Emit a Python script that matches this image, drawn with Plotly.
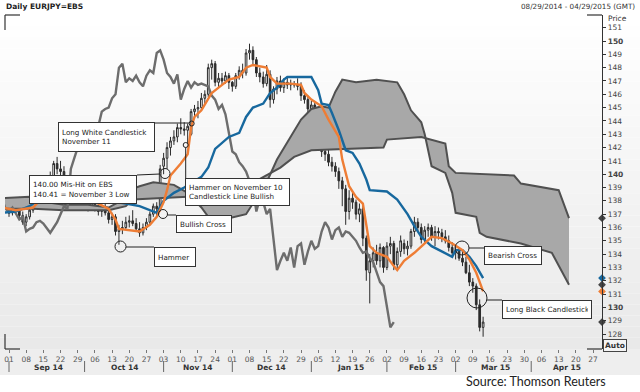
import plotly.graph_objects as go
import pandas as pd

# ---------------- data ----------------
candle_dates = pd.bdate_range("2014-09-01", "2015-03-12")

ohlc_sep = [(137.1,137.4,136.8,137.1),(137.1,137.9,136.9,137.7),(137.7,138.2,137.4,137.9),(137.9,138.3,136.7,136.9),
            (136.9,137.2,136.2,136.4),(136.4,137.0,136.1,136.8),(136.8,137.6,136.6,137.3),(137.3,138.4,137.1,138.3),
            (138.3,139.2,138.0,139.0),(139.0,139.8,138.7,139.4),(139.4,139.6,138.8,139.0),(139.0,139.5,138.6,139.3),
            (139.3,140.2,139.0,139.9),(139.9,141.0,139.6,140.8),(140.8,141.3,140.0,140.4),(140.4,141.0,139.6,140.2),
            (140.2,140.6,139.2,139.6),(139.6,139.9,138.7,139.0),(139.0,139.3,138.1,138.4),(138.4,138.9,137.9,138.6),
            (138.6,138.9,137.8,138.0),(138.0,138.8,137.7,138.5)]
ohlc_oct = [(138.5,138.7,137.6,137.9),(137.9,138.3,137.2,137.6),(137.6,138.4,137.3,138.1),(138.1,138.3,137.2,137.4),
            (137.4,137.8,136.9,137.2),(137.2,137.6,136.8,137.5),(137.5,137.9,136.9,137.1),(137.1,137.4,136.3,136.6),
            (136.6,137.1,136.2,136.8),(136.8,137.0,135.4,135.7),(135.7,136.2,134.7,135.9),(135.9,136.5,135.5,136.0),
            (136.0,136.8,135.8,136.4),(136.4,136.9,136.0,136.5),(136.5,137.3,136.1,136.3),(136.3,136.7,135.7,135.9),
            (135.9,136.4,135.3,135.6),(135.6,136.3,135.4,136.0),(136.0,136.7,135.8,136.4),(136.4,137.2,136.2,137.0),
            (137.0,137.8,136.8,137.6),(137.6,137.9,136.9,137.4),(137.4,140.7,137.2,140.4)]
ohlc_nov = [(140.6,141.6,140.0,141.2),(141.2,142.4,140.4,142.0),(142.0,142.8,141.4,142.5),(142.5,143.3,142.2,142.8),
            (142.8,143.8,142.4,143.5),(143.5,144.2,143.0,143.4),(143.4,143.9,142.9,143.3),(143.3,143.8,142.3,143.6),
            (143.0,144.9,142.9,144.7),(144.7,145.2,144.3,144.9),(144.9,145.5,144.2,145.0),(145.0,146.1,144.8,145.7),
            (145.7,146.3,145.2,146.0),(146.0,148.3,145.8,148.0),(148.0,148.6,147.1,148.3),(148.3,148.5,146.6,146.9),
            (146.9,147.6,146.5,147.2),(147.2,147.6,146.7,147.0),(147.0,147.7,146.8,147.4),(147.4,147.6,146.4,146.9)]
ohlc_dec = [(146.9,147.0,146.2,146.6),(146.6,147.6,146.4,147.4),(147.4,148.1,147.1,147.8),(147.8,148.3,147.2,147.6),
            (147.6,149.4,147.4,149.1),(149.1,149.8,148.6,149.3),(149.3,149.6,148.2,148.6),(148.6,148.8,147.3,147.6),
            (147.6,148.0,146.9,147.3),(147.3,147.7,146.5,146.8),(146.8,148.2,146.6,147.5),(147.5,147.8,145.0,145.6),
            (145.6,146.6,145.3,146.4),(146.4,147.3,146.0,147.0),(147.0,147.4,146.2,146.5),(146.5,147.2,146.1,146.9),
            (146.9,147.3,146.4,146.7),(146.7,147.1,146.3,146.8),(146.8,147.0,146.5,146.7),(146.7,147.2,146.3,146.6),
            (146.6,146.9,145.5,145.9),(145.9,146.3,145.3,145.6),(145.6,145.9,144.6,144.9)]
ohlc_jan = [(144.9,145.5,144.6,145.2),(145.2,145.4,144.2,144.5),(144.3,144.4,142.4,143.0),(143.0,143.2,141.3,141.7),
            (141.7,142.3,141.0,141.5),(141.5,142.0,140.6,140.9),(140.9,141.3,140.2,140.6),(140.6,140.9,139.8,140.2),
            (140.2,140.5,138.9,139.5),(139.5,139.8,137.6,138.9),(138.9,139.2,136.2,137.2),(137.2,138.8,136.6,138.2),
            (138.2,138.6,137.4,137.9),(137.9,138.1,136.6,137.0),(137.0,137.8,136.4,137.4),(137.4,137.7,134.6,135.2),
            (135.2,135.4,132.0,132.8),(132.6,134.0,130.3,133.5),(133.5,134.5,133.0,134.1),(134.1,134.7,133.2,133.5),
            (133.5,134.8,133.0,134.5),(134.5,134.6,132.6,133.0)]
ohlc_feb = [(133.0,134.9,132.8,134.6),(134.6,135.3,134.0,134.8),(134.8,135.0,132.8,133.2),(133.2,134.5,132.9,134.2),
            (134.2,135.4,133.8,135.0),(134.8,135.1,134.0,134.4),(134.4,135.0,133.9,134.6),(134.6,135.9,134.4,135.7),
            (135.7,136.8,135.3,136.4),(136.4,136.7,135.7,136.0),(136.0,136.3,134.8,135.1),(135.1,136.1,134.9,135.8),
            (135.8,136.3,135.3,136.0),(136.0,136.2,135.0,135.3),(135.3,136.1,134.6,135.7),(135.7,136.0,135.1,135.6),
            (135.6,135.9,134.9,135.3),(135.3,135.8,134.8,135.0),(135.0,135.4,134.2,134.5),(134.5,134.9,133.8,134.1)]
ohlc_mar = [(134.1,134.6,133.6,134.2),(134.2,134.5,133.5,133.7),(133.7,134.3,133.1,133.4),(133.4,133.8,132.5,132.6),
            (132.6,133.2,131.6,131.9),(131.9,132.2,131.1,131.6),(131.6,131.8,129.8,130.2),(130.2,130.6,128.2,128.5),
            (128.5,129.3,127.8,128.9)]
ohlc = ohlc_sep + ohlc_oct + ohlc_nov + ohlc_dec + ohlc_jan + ohlc_feb + ohlc_mar
price_open = [r[0] for r in ohlc]
price_high = [r[1] for r in ohlc]
price_low = [r[2] for r in ohlc]
price_close = [r[3] for r in ohlc]

# lagging span: the closes, drawn 26 sessions back
chikou_dates = pd.bdate_range("2014-07-25", periods=len(price_close))

tenkan_dates = ["2014-08-28","2014-09-03","2014-09-10","2014-09-16","2014-09-22","2014-09-26","2014-10-02","2014-10-08",
                "2014-10-10","2014-10-14","2014-10-15","2014-10-23","2014-10-28","2014-10-30","2014-11-03","2014-11-04",
                "2014-11-05","2014-11-10","2014-11-12","2014-11-13","2014-11-14","2014-11-18","2014-11-20","2014-11-21",
                "2014-11-25","2014-11-28","2014-12-03","2014-12-05","2014-12-09","2014-12-15","2014-12-16","2014-12-18",
                "2014-12-24","2014-12-29","2014-12-30","2015-01-01","2015-01-06","2015-01-08","2015-01-13","2015-01-14",
                "2015-01-16","2015-01-20","2015-01-22","2015-01-23","2015-01-26","2015-01-28","2015-02-02","2015-02-04",
                "2015-02-05","2015-02-09","2015-02-12","2015-02-17","2015-02-19","2015-02-24","2015-02-27","2015-03-04",
                "2015-03-06","2015-03-10","2015-03-12"]
tenkan_vals = [137.5,137.3,137.5,138.6,139.6,139.2,138.2,137.7,
               137.4,136.6,135.9,135.7,136.2,136.8,137.9,138.8,
               139.9,140.8,141.5,143.5,144.3,144.8,145.6,146.1,
               146.5,147.1,147.3,148.0,148.2,148.0,147.3,146.8,
               146.8,146.7,146.1,145.6,145.1,144.1,142.8,141.1,
               139.1,138.3,137.8,136.1,134.6,134.1,133.8,133.1,
               132.8,133.5,134.1,134.8,135.3,135.2,134.8,134.3,
               133.6,132.6,131.2]

kijun_dates = ["2014-08-28","2014-09-03","2014-09-09","2014-09-17","2014-09-30","2014-10-10","2014-10-17","2014-10-23",
               "2014-10-30","2014-11-03","2014-11-06","2014-11-11","2014-11-18","2014-11-20","2014-11-24","2014-11-28",
               "2014-12-03","2014-12-05","2014-12-09","2014-12-12","2014-12-16","2014-12-18","2014-12-22","2014-12-23",
               "2015-01-01","2015-01-05","2015-01-06","2015-01-08","2015-01-09","2015-01-13","2015-01-15","2015-01-19",
               "2015-01-21","2015-01-23","2015-01-26","2015-02-02","2015-02-05","2015-02-10","2015-02-12","2015-02-16",
               "2015-02-19","2015-02-24","2015-02-27","2015-03-02","2015-03-04","2015-03-06","2015-03-10","2015-03-12"]
kijun_vals = [137.1,137.2,137.6,138.7,138.7,138.0,137.8,137.6,
              137.1,138.0,138.6,139.0,139.8,140.5,141.9,142.8,
              143.1,144.3,145.0,145.3,146.1,146.5,147.1,147.3,
              147.3,146.3,145.3,145.2,144.6,143.3,141.8,141.6,
              140.8,139.6,138.8,138.7,138.1,137.0,136.1,135.3,
              134.6,134.2,133.8,134.3,134.3,133.8,133.1,132.2]

span_a_dates = ["2014-08-28","2014-09-09","2014-09-16","2014-09-23","2014-10-02","2014-10-10","2014-10-17","2014-10-21",
                "2014-10-23","2014-10-29","2014-11-06","2014-11-12","2014-11-18","2014-11-20","2014-11-28","2014-12-05",
                "2014-12-10","2014-12-15","2014-12-18","2014-12-24","2014-12-29","2015-01-01","2015-01-06","2015-01-08",
                "2015-01-12","2015-01-14","2015-01-20","2015-01-28","2015-02-05","2015-02-09","2015-02-11","2015-02-16",
                "2015-02-17","2015-02-19","2015-02-25","2015-02-27","2015-03-02","2015-03-10","2015-03-11","2015-03-13",
                "2015-03-27","2015-04-09","2015-04-13","2015-04-16"]
span_a_vals = [138.2,138.3,137.9,137.7,137.7,137.5,138.2,138.9,
               139.1,139.4,139.2,138.6,137.5,136.8,136.7,137.0,
               138.2,139.4,141.1,142.8,144.1,144.9,145.1,145.0,
               146.2,147.1,146.9,147.1,146.9,146.0,144.8,143.9,
               143.0,140.6,140.1,138.6,137.1,136.8,135.6,135.3,
               134.8,134.1,133.1,131.7]

span_b_dates = ["2014-08-28","2014-09-10","2014-09-23","2014-10-10","2014-10-17","2014-10-21","2014-11-12","2014-12-03",
                "2014-12-10","2014-12-12","2014-12-19","2014-12-25","2015-01-01","2015-01-30","2015-02-02","2015-02-16",
                "2015-02-19","2015-02-25","2015-02-26","2015-03-02","2015-03-25","2015-03-27","2015-04-13","2015-04-15",
                "2015-04-16"]
span_b_vals = [137.4,137.4,137.3,137.3,137.6,138.1,138.3,138.5,
               139.5,139.8,140.5,141.3,141.8,142.0,142.6,142.8,
               142.6,142.3,140.6,140.1,139.9,139.3,138.8,137.5,
               136.7]

week_ticks = pd.date_range("2014-09-01", "2015-04-27", freq="W-MON")
week_labels = [d.strftime("%d") for d in week_ticks]
month_names = ["Sep 14", "Oct 14", "Nov 14", "Dec 14", "Jan 15", "Feb 15", "Mar 15", "Apr 15"]
month_starts = ["2014-09-01", "2014-10-01", "2014-11-03", "2014-12-01", "2015-01-01", "2015-02-02", "2015-03-02", "2015-04-01"]
month_mids = ["2014-09-16 12:00", "2014-10-16 12:00", "2014-11-17", "2014-12-16 12:00", "2015-01-16 12:00",
              "2015-02-16 12:00", "2015-03-17 12:00", "2015-04-15 12:00"]
price_ticks = list(range(128, 152))

# ---------------- layout helpers ----------------
W_PX, H_PX = 640, 392
L, R, T, B = 5, 602, 15, 349
PW, PH = R - L, B - T
X_RANGE = ["2014-08-28 20:00", "2015-04-29 14:30"]
Y_RANGE = [126.878, 151.953]


def X(px):
    return (px - L) / PW


def Y(py):
    return (B - py) / PH


ORANGE = "#ee7d35"
BLUE = "#17689e"
CLOUD_LINE = "#505050"
CLOUD_FILL = "#a8a8a8"
CHIKOU = "#6d6d6d"
TXT = "DejaVu Sans"

fig = go.Figure()

fig.add_trace(go.Scatter(x=span_b_dates, y=span_b_vals, mode="lines",
                         line=dict(color=CLOUD_LINE, width=2), showlegend=False, hoverinfo="skip"))
fig.add_trace(go.Scatter(x=span_a_dates, y=span_a_vals, mode="lines", fill="tonexty", fillcolor=CLOUD_FILL,
                         line=dict(color=CLOUD_LINE, width=2), showlegend=False, hoverinfo="skip"))
fig.add_trace(go.Scatter(x=chikou_dates, y=price_close, mode="lines",
                         line=dict(color=CHIKOU, width=2.4), showlegend=False, hoverinfo="skip"))
fig.add_trace(go.Candlestick(x=candle_dates, open=price_open, high=price_high, low=price_low, close=price_close,
                             increasing=dict(line=dict(color="#2b2b2b", width=1), fillcolor="#ffffff"),
                             decreasing=dict(line=dict(color="#2b2b2b", width=1), fillcolor="#2b2b2b"),
                             whiskerwidth=0, showlegend=False, hoverinfo="skip"))
fig.add_trace(go.Scatter(x=kijun_dates, y=kijun_vals, mode="lines",
                         line=dict(color=BLUE, width=2.4), showlegend=False, hoverinfo="skip"))
fig.add_trace(go.Scatter(x=tenkan_dates, y=tenkan_vals, mode="lines",
                         line=dict(color=ORANGE, width=2.4), showlegend=False, hoverinfo="skip"))

# last-value markers on the price axis
last_vals = [span_b_vals[-1], kijun_vals[-1], span_a_vals[-1], tenkan_vals[-1], price_close[-1]]
last_cols = ["#444444", BLUE, "#444444", ORANGE, "#444444"]
fig.add_trace(go.Scatter(x=[X_RANGE[1]] * len(last_vals), y=last_vals, mode="markers", cliponaxis=False,
                         marker=dict(symbol="diamond", size=6, color=last_cols), showlegend=False, hoverinfo="skip"))

shapes = []
# background gradient
N = 30
for i in range(N):
    frac = i / (N - 1)
    g = int(round(255 - frac * 22))
    shapes.append(dict(type="rect", xref="paper", yref="paper", layer="below", line=dict(width=0),
                       x0=X(0), x1=X(640), y0=Y(T + PH * (i + 1) / N), y1=Y(T + PH * i / N),
                       fillcolor=f"rgb({g},{g},{g})"))
# x-axis band
shapes.append(dict(type="rect", xref="paper", yref="paper", layer="below", line=dict(width=0),
                   x0=X(0), x1=X(640), y0=Y(375), y1=Y(349), fillcolor="#eeeeee"))
# frame corners
for (xa, ya, xb, yb) in [(5, 15, 20, 15), (5, 15, 5, 30), (5, 349, 20, 349), (5, 334, 5, 349),
                         (587, 15, 602, 15), (587, 349, 602, 349)]:
    shapes.append(dict(type="line", xref="paper", yref="paper", x0=X(xa), y0=Y(ya), x1=X(xb), y1=Y(yb),
                       line=dict(color="#333333", width=1.2)))
# month separators
for d in month_starts:
    shapes.append(dict(type="line", xref="x", yref="paper", x0=d, x1=d, y0=Y(361), y1=Y(372),
                       line=dict(color="#666666", width=1)))

# annotation circles (pixel centre, radius) and connector lines
circles = [(120.5, 246.5, 5.5), (165, 173.5, 5), (185.7, 145, 2.5), (191.7, 123.5, 2.5),
           (163, 214, 4.5), (462, 248, 7), (477, 298, 10)]
for cx, cy, r in circles:
    shapes.append(dict(type="circle", xref="paper", yref="paper", x0=X(cx - r), x1=X(cx + r),
                       y0=Y(cy + r), y1=Y(cy - r), line=dict(color="#222222", width=1)))
connectors = [(126, 247, 154, 247), (137, 175, 160, 174), (185.7, 147.5, 185.7, 178), (155, 123, 189.2, 123),
              (167.5, 215, 176, 215), (469, 248, 484, 248), (487, 300, 502, 300)]
for xa, ya, xb, yb in connectors:
    shapes.append(dict(type="line", xref="paper", yref="paper", x0=X(xa), y0=Y(ya), x1=X(xb), y1=Y(yb),
                       line=dict(color="#222222", width=1)))

annotations = []
# boxes: (left, top, right, bottom, text)
boxes = [(58, 122, 155, 152, "Long White Candlestick<br>November 11"),
         (29, 175, 137, 204, "140.00 Mis-Hit on EBS<br>140.41 = November 3 Low"),
         (185, 178, 290, 206, "Hammer on November 10<br>Candlestick Line Bullish"),
         (176, 215, 232, 233, "Bullish Cross"),
         (154, 247, 196, 267, "Hammer"),
         (484, 246, 542, 265, "Bearish Cross"),
         (502, 300, 592, 319, "Long Black Candlestick")]
for l_, t_, r_, b_, txt in boxes:
    pad = 3
    annotations.append(dict(xref="paper", yref="paper", x=X(l_), y=Y(t_), xanchor="left", yanchor="top",
                            text=txt, showarrow=False, align="left", valign="middle",
                            width=r_ - l_ - 2 * pad - 2, height=b_ - t_ - 2 * pad - 2,
                            bgcolor="#ffffff", bordercolor="#333333", borderwidth=1, borderpad=pad,
                            font=dict(family=TXT, size=7.2, color="#1a1a1a")))
# month labels
for d, name in zip(month_mids, month_names):
    annotations.append(dict(xref="x", yref="paper", x=d, y=Y(367), text=f"<b>{name}</b>", showarrow=False,
                            xanchor="center", yanchor="middle", font=dict(family=TXT, size=7.5, color="#333333")))
# header texts
annotations.append(dict(xref="paper", yref="paper", x=X(4), y=Y(6), text="<b>Daily EURJPY=EBS</b>",
                        showarrow=False, xanchor="left", yanchor="middle",
                        font=dict(family=TXT, size=7.5, color="#222222")))
annotations.append(dict(xref="paper", yref="paper", x=X(637), y=Y(6), text="08/29/2014 - 04/29/2015 (GMT)",
                        showarrow=False, xanchor="right", yanchor="middle",
                        font=dict(family=TXT, size=7.2, color="#333333")))
annotations.append(dict(xref="paper", yref="paper", x=X(606), y=Y(18), text="Price",
                        showarrow=False, xanchor="left", yanchor="middle",
                        font=dict(family=TXT, size=7.5, color="#333333")))
annotations.append(dict(xref="paper", yref="paper", x=X(603), y=Y(345), text="<b>Auto</b>",
                        showarrow=False, xanchor="left", yanchor="middle", bordercolor="#444444",
                        borderwidth=1, borderpad=1, bgcolor="#f4f4f4",
                        font=dict(family=TXT, size=7.5, color="#333333")))
annotations.append(dict(xref="paper", yref="paper", x=X(536), y=Y(381), text="Source: Thomson Reuters",
                        showarrow=False, xanchor="center", yanchor="middle",
                        font=dict(family="Lato", size=12.5, color="#222222")))

fig.update_layout(
    width=W_PX, height=H_PX,
    margin=dict(l=L, r=W_PX - R, t=T, b=H_PX - B),
    paper_bgcolor="#ffffff", plot_bgcolor="rgba(0,0,0,0)",
    showlegend=False, shapes=shapes, annotations=annotations, hovermode=False,
    xaxis=dict(type="date", range=X_RANGE, rangebreaks=[dict(bounds=["sat", "mon"])],
               rangeslider=dict(visible=False), showgrid=False, zeroline=False, showline=False,
               tickmode="array", tickvals=week_ticks, ticktext=week_labels,
               ticks="outside", ticklen=3, tickcolor="#777777", tickwidth=1,
               tickfont=dict(family=TXT, size=7.5, color="#555555")),
    yaxis=dict(side="right", range=Y_RANGE, showgrid=False, zeroline=False,
               showline=True, linecolor="#333333", linewidth=1.2,
               tickmode="array", tickvals=price_ticks,
               ticktext=[f"<b>{v}</b>" if v % 10 == 0 else str(v) for v in price_ticks],
               ticks="outside", ticklen=3, tickcolor="#333333",
               tickfont=dict(family=TXT, size=7.5, color="#444444")),
)

fig.write_html("out.html", config={"displayModeBar": False, "staticPlot": True},
               post_script="document.body.style.margin='0px';document.body.style.overflow='hidden';")
